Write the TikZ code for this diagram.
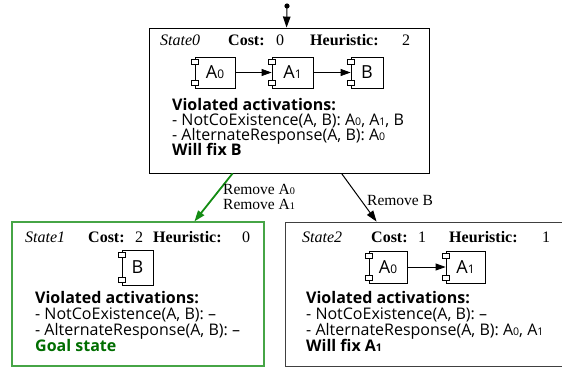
\documentclass[tikz,border=0pt]{standalone}
\usepackage{fontspec}
\usepackage{graphicx}
\setmainfont{Liberation Serif}
\newfontfamily\osans{Open Sans}
\usetikzlibrary{arrows.meta,calc}
\definecolor{boxgreen}{RGB}{70,165,70}
\definecolor{arrgreen}{RGB}{20,140,20}
\definecolor{goalgreen}{RGB}{0,110,0}
\newcommand\sbs[1]{\scalebox{0.66}{#1}}
\newcommand\comptabs[1]{%
  \draw[fill=white] ($(#1.north west)+(-3.5,3)$) rectangle ++(7,5);
  \draw[fill=white] ($(#1.south west)+(-3.5,-8)$) rectangle ++(7,5);}
\tikzset{
  statebox/.style={draw, rectangle, inner sep=0pt, line width=0.9pt},
  comp/.style={draw, rectangle, inner sep=0pt, line width=0.8pt, font=\osans\fontsize{18}{18}\selectfont},
  hdr/.style={anchor=base west, inner sep=0pt, font=\fontsize{16}{16}\selectfont},
  hdrb/.style={hdr, font=\fontsize{16}{16}\selectfont\bfseries},
  hdri/.style={hdr, font=\fontsize{16}{16}\selectfont\itshape},
  txt/.style={anchor=base west, inner sep=0pt, font=\osans\fontsize{16}{16}\selectfont},
  txtb/.style={txt, font=\osans\fontsize{16}{16}\selectfont\bfseries},
  elabel/.style={anchor=base west, inner sep=0pt, font=\fontsize{15.5}{15.5}\selectfont},
  tip/.style={-{Triangle[length=11pt,width=7.5pt]}},
  smalltip/.style={-{Triangle[length=10pt,width=7pt]}, line width=0.8pt}
}
\begin{document}
\begin{tikzpicture}[x=1pt,y=-1pt]
\clip (0,0) rectangle (562,367);
\fill[white] (0,0) rectangle (562,367);
% state boxes
\node[statebox, minimum width=280, minimum height=145] (s0) at (289,100.5) {};
\node[statebox, draw=boxgreen, line width=1.2pt, minimum width=252, minimum height=144] (s1) at (138,294) {};
\node[statebox, draw=black!75, minimum width=290, minimum height=144] (s2) at (430,294) {};
% start
\fill (287,6) circle (2.6) coordinate (start);
\draw[tip, line width=1pt] (start) -- ($(s0.north west)+(138,0)$);
% State0 header
\node[hdri] (s0n) at (160,45) {State0};
\node[hdrb] (s0c) at (228,45) {Cost:};
\node[hdr] (s0cv) at (276,45) {0};
\node[hdrb] (s0h) at (310,45) {Heuristic:};
\node[hdr] (s0hv) at (402,45) {2};
% State0 components
\node[comp, minimum width=40, minimum height=31] (a0) at (215,72.5) {A\sbs{0}};
\node[comp, minimum width=41, minimum height=31] (a1) at (292.5,72.5) {A\sbs{1}};
\node[comp, minimum width=32, minimum height=31] (b0) at (367,72.5) {B};
\comptabs{a0}\comptabs{a1}\comptabs{b0}
\draw[smalltip] (a0) -- (a1);
\draw[smalltip] (a1) -- (b0);
% State0 text
\node[txtb] (s0t1) at (172,110) {Violated activations:};
\node[txt] (s0t2) at (172,125) {- NotCoExistence(A, B): A\sbs{0}, A\sbs{1}, B};
\node[txt] (s0t3) at (172,140) {- AlternateResponse(A, B): A\sbs{0}};
\node[txtb] (s0t4) at (172,155) {Will fix B};
% State1
\node[hdri] (s1n) at (25,242) {State1};
\node[hdrb] (s1c) at (88,242) {Cost:};
\node[hdr] (s1cv) at (135,242) {2};
\node[hdrb] (s1h) at (153,242) {Heuristic:};
\node[hdr] (s1hv) at (242,242) {0};
\node[comp, minimum width=31, minimum height=35] (b1) at (137.5,267.5) {B};
\comptabs{b1}
\node[txtb] (s1t1) at (35,303) {Violated activations:};
\node[txt] (s1t2) at (35,319) {- NotCoExistence(A, B): \textendash};
\node[txt] (s1t3) at (35,335) {- AlternateResponse(A, B): \textendash};
\node[txtb, text=goalgreen] (s1t4) at (35,351.5) {Goal state};
% State2
\node[hdri] (s2n) at (302,242) {State2};
\node[hdrb] (s2c) at (371,242) {Cost:};
\node[hdr] (s2cv) at (418,242) {1};
\node[hdrb] (s2h) at (449,242) {Heuristic:};
\node[hdr] (s2hv) at (542,242) {1};
\node[comp, minimum width=38, minimum height=32] (a20) at (388,267) {A\sbs{0}};
\node[comp, minimum width=39, minimum height=32] (a21) at (465.5,267) {A\sbs{1}};
\comptabs{a20}\comptabs{a21}
\draw[smalltip] (a20) -- (a21);
\node[txtb] (s2t1) at (306,303) {Violated activations:};
\node[txt] (s2t2) at (306,319) {- NotCoExistence(A, B): \textendash};
\node[txt] (s2t3) at (306,335) {- AlternateResponse(A, B): A\sbs{0}, A\sbs{1}};
\node[txtb] (s2t4) at (306,351.5) {Will fix A\sbs{1}};
% edges
\draw[tip, draw=arrgreen, fill=arrgreen, line width=1.8pt] ($(s0.south west)+(84,0)$) -- ($(s1.north west)+(183,0)$);
\node[elabel] (l1a) at (223,194) {Remove A\sbs{0}};
\node[elabel] (l1b) at (223,209) {Remove A\sbs{1}};
\draw[tip, line width=1pt] ($(s0.south west)+(193,0)$) -- ($(s2.north west)+(92,0)$);
\node[elabel] (l2) at (367,205) {Remove B};
\end{tikzpicture}
\end{document}
